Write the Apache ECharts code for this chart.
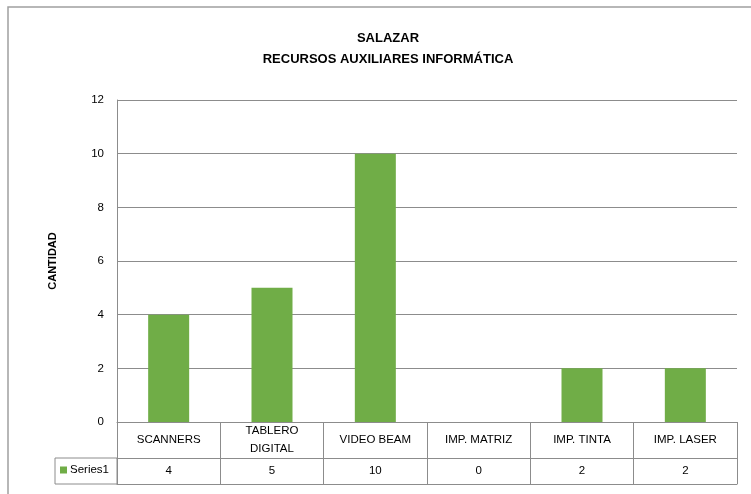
<!DOCTYPE html>
<html>
<head>
<meta charset="utf-8">
<script src="https://cdn.jsdelivr.net/npm/echarts@6/dist/echarts.min.js"></script>
<style>
  html, body { margin: 0; padding: 0; background: #fff; }
  #main { width: 751px; height: 494px; }
</style>
</head>
<body>
<div id="main"></div>
<script>
// datos de la grafica
var categorias = ['SCANNERS', 'TABLERO\nDIGITAL', 'VIDEO BEAM', 'IMP. MATRIZ', 'IMP. TINTA', 'IMP. LASER'];
var valores = [4, 5, 10, 0, 2, 2];
var nombreSerie = 'Series1';

var fuente = 'Liberation Sans';
var gris = '#8c8c8c';

var chart = echarts.init(document.getElementById('main'));
chart.setOption({
  backgroundColor: '#fff',
  textStyle: { fontFamily: fuente },
  title: {
    text: 'SALAZAR\nRECURSOS AUXILIARES INFORMÁTICA',
    left: 388,
    textAlign: 'center',
    top: 28,
    padding: 0,
    textStyle: { fontSize: 13, fontWeight: 'bold', color: '#000', lineHeight: 21, fontFamily: fuente }
  },
  legend: {
    left: 60,
    top: 464,
    itemWidth: 7,
    itemHeight: 7,
    itemGap: 4,
    icon: 'rect',
    padding: 0,
    textStyle: { fontSize: 11.5, color: '#000', padding: [0, 0, 0, -2] },
    data: [nombreSerie]
  },
  grid: { left: 117, right: 14, top: 100, bottom: 72 },
  xAxis: [
    {
      // fila de categorias
      type: 'category',
      data: categorias,
      position: 'bottom',
      axisLine: { lineStyle: { color: gris } },
      axisTick: { show: true, alignWithLabel: false, length: 62, interval: 0, lineStyle: { color: gris } },
      axisLabel: { interval: 0, margin: 18, verticalAlign: 'middle', lineHeight: 18, fontSize: 11.5, color: '#000', fontFamily: fuente }
    },
    {
      // fila de valores
      type: 'category',
      data: categorias,
      position: 'bottom',
      offset: 36,
      axisLine: { lineStyle: { color: gris } },
      axisTick: { show: false },
      axisLabel: {
        interval: 0, margin: 13, verticalAlign: 'middle', fontSize: 11.5, color: '#000', fontFamily: fuente,
        formatter: function (v, i) { return String(valores[i]); }
      }
    },
    {
      type: 'category',
      data: categorias,
      position: 'bottom',
      offset: 62,
      axisLine: { lineStyle: { color: gris } },
      axisTick: { show: false },
      axisLabel: { show: false }
    }
  ],
  yAxis: {
    type: 'value',
    min: 0,
    max: 12,
    interval: 2,
    name: 'CANTIDAD',
    nameLocation: 'middle',
    nameGap: 59,
    nameTextStyle: { fontSize: 11, fontWeight: 'bold', color: '#000', fontFamily: fuente },
    axisLine: { show: true, lineStyle: { color: gris } },
    axisTick: { show: false },
    splitLine: { lineStyle: { color: gris } },
    axisLabel: { margin: 13, fontSize: 11.5, color: '#000', fontFamily: fuente }
  },
  graphic: [
    {
      type: 'rect',
      z: -1,
      shape: { x: 8, y: 7, width: 800, height: 600 },
      style: { fill: 'none', stroke: '#a0a0a0', lineWidth: 1.5 }
    },
    {
      type: 'rect',
      shape: { x: 55, y: 458, width: 62, height: 26 },
      style: { fill: 'none', stroke: gris, lineWidth: 1 }
    }
  ],
  series: [{
    name: nombreSerie,
    type: 'bar',
    barWidth: 41,
    itemStyle: { color: '#70AD47' },
    data: valores
  }]
});
</script>
</body>
</html>
